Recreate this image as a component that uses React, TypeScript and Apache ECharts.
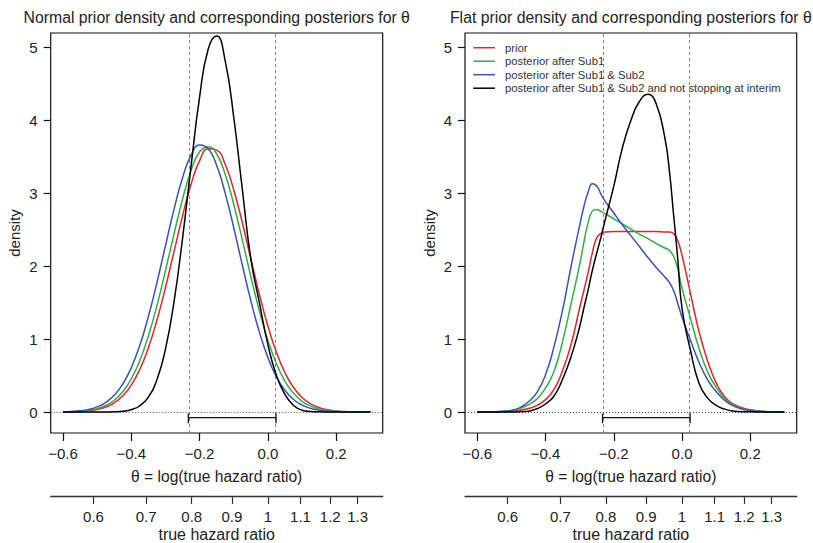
import React, { useEffect, useRef } from "react";
import * as echarts from "echarts";

// ---------- data ----------
const thetaNormal = [
  -0.6, -0.575, -0.55, -0.525, -0.5, -0.475, -0.45, -0.425, -0.4, -0.375, -0.35, -0.325, -0.3,
  -0.275, -0.25, -0.225, -0.2, -0.175, -0.15, -0.125, -0.1, -0.075, -0.05, -0.025, 0, 0.025,
  0.05, 0.075, 0.1, 0.125, 0.15, 0.175, 0.2, 0.225, 0.25, 0.275, 0.3,
];
const normalPrior = [
  0.0015, 0.0035, 0.008, 0.017, 0.035, 0.068, 0.126, 0.222, 0.37, 0.587, 0.882, 1.259, 1.708,
  2.2, 2.691, 3.126, 3.448, 3.612, 3.593, 3.395, 3.046, 2.596, 2.1, 1.614, 1.178, 0.816, 0.537,
  0.336, 0.199, 0.112, 0.06, 0.03, 0.015, 0.007, 0.003, 0.0012, 0.0005,
];
const normalPostSub1 = [
  0.002, 0.0048, 0.0108, 0.023, 0.046, 0.089, 0.161, 0.278, 0.455, 0.707, 1.043, 1.459, 1.938,
  2.442, 2.92, 3.315, 3.57, 3.64, 3.54, 3.26, 2.847, 2.361, 1.858, 1.388, 0.983, 0.661, 0.422,
  0.256, 0.147, 0.08, 0.042, 0.02, 0.0095, 0.0042, 0.0018, 0.0007, 0.0003,
];
const normalPostSub12 = [
  0.0034, 0.0079, 0.017, 0.036, 0.07, 0.13, 0.229, 0.384, 0.609, 0.917, 1.31, 1.775, 2.281,
  2.78, 3.214, 3.524, 3.664, 3.614, 3.381, 3.0, 2.525, 2.016, 1.526, 1.096, 0.746, 0.482, 0.295,
  0.172, 0.095, 0.05, 0.025, 0.012, 0.005, 0.002, 0.0009, 0.0003, 0.0001,
];
const normalPostNoStop = [
  0, 0, 0, 0, 0.0002, 0.0009, 0.0033, 0.011, 0.032, 0.086, 0.205, 0.443, 0.863, 1.512, 2.382,
  3.378, 4.324, 4.977, 5.158, 4.813, 4.041, 3.056, 2.1, 1.5, 0.92, 0.5, 0.24, 0.09, 0.025, 0.008,
  0.002, 0.0005, 0, 0, 0, 0, 0,
];

const thetaFlat = [
  -0.6, -0.575, -0.55, -0.525, -0.5, -0.475, -0.45, -0.425, -0.4, -0.375, -0.35, -0.325, -0.3,
  -0.2875, -0.275, -0.2625, -0.25, -0.2375, -0.225, -0.2, -0.175, -0.15, -0.125, -0.1, -0.075,
  -0.05, -0.0375, -0.025, -0.0125, 0, 0.025, 0.05, 0.075, 0.1, 0.125, 0.15, 0.175, 0.2, 0.225,
  0.25, 0.275, 0.3,
];
const flatPrior = [
  0, 0.001, 0.002, 0.005, 0.012, 0.025, 0.048, 0.09, 0.17, 0.31, 0.57, 0.93, 1.43, 1.67, 1.92,
  2.19, 2.39, 2.45, 2.47, 2.475, 2.475, 2.475, 2.475, 2.475, 2.475, 2.47, 2.47, 2.45, 2.35, 2.15,
  1.62, 1.1, 0.7, 0.4, 0.21, 0.11, 0.06, 0.03, 0.013, 0.005, 0.002, 0.001,
];
const flatPostSub1 = [
  0.001, 0.002, 0.005, 0.01, 0.022, 0.05, 0.1, 0.18, 0.33, 0.56, 0.97, 1.49, 2.02, 2.33, 2.6,
  2.76, 2.78, 2.75, 2.72, 2.65, 2.58, 2.51, 2.44, 2.38, 2.31, 2.25, 2.22, 2.14, 1.96, 1.7, 1.28,
  0.87, 0.55, 0.34, 0.19, 0.1, 0.05, 0.025, 0.011, 0.005, 0.002, 0.001,
];
const flatPostSub12 = [
  0.001, 0.002, 0.004, 0.009, 0.022, 0.06, 0.14, 0.27, 0.51, 0.9, 1.4, 2.0, 2.56, 2.82, 3.02,
  3.13, 3.1, 2.99, 2.89, 2.73, 2.57, 2.42, 2.27, 2.12, 1.98, 1.85, 1.78, 1.67, 1.49, 1.3, 0.98,
  0.68, 0.44, 0.28, 0.16, 0.085, 0.042, 0.02, 0.009, 0.004, 0.0015, 0.0005,
];
const flatPostNoStop = [
  0, 0, 0, 0.0005, 0.001, 0.004, 0.012, 0.045, 0.11, 0.22, 0.45, 0.76, 1.17, 1.43, 1.68, 1.95,
  2.18, 2.4, 2.64, 3.1, 3.62, 4.0, 4.26, 4.36, 4.22, 3.75, 3.33, 2.72, 2.1, 1.42, 0.84, 0.39,
  0.19, 0.09, 0.04, 0.015, 0.005, 0.002, 0.0005, 0, 0, 0,
];

const curveNames = [
  "prior",
  "posterior after Sub1",
  "posterior after Sub1 & Sub2",
  "posterior after Sub1 & Sub2 and not stopping at interim",
];
const panelTitles = [
  "Normal prior density and corresponding posteriors for θ",
  "Flat prior density and corresponding posteriors for θ",
];
const thetaTicks = [-0.6, -0.4, -0.2, 0, 0.2];
const thetaTickLabels = ["−0.6", "−0.4", "−0.2", "0.0", "0.2"];
const hrTicks = [0.6, 0.7, 0.8, 0.9, 1, 1.1, 1.2, 1.3];
const hrTickLabels = ["0.6", "0.7", "0.8", "0.9", "1", "1.1", "1.2", "1.3"];
const densityTicks = [0, 1, 2, 3, 4, 5];
const intervalBounds = [-0.233, 0.0237];

// ---------- layout / styles ----------
const FONT = '"Liberation Sans", Arial, Helvetica, sans-serif';
const COLORS = ["#E8202A", "#2FAF4A", "#3A53B0", "#000000"];
const TEXT = "#222";
const X_MIN = -0.636;
const X_MAX = 0.336;
const Y_MIN = -0.288;
const Y_MAX = 5.2;
const GRIDS = [
  { left: 50.7, top: 33, width: 332, height: 400 },
  { left: 465, top: 33, width: 331.7, height: 400 },
];
const BAR_Y = -0.077;
const CAP_TOP = -0.02;
const CAP_BOTTOM = -0.155;

const pick = (ticks: number[], labels: string[], v: number) => {
  const i = ticks.findIndex((t) => Math.abs(t - v) < 1e-6);
  return i >= 0 ? labels[i] : "";
};

function buildOption() {
  const panels = [
    { x: thetaNormal, ys: [normalPrior, normalPostSub1, normalPostSub12, normalPostNoStop] },
    { x: thetaFlat, ys: [flatPrior, flatPostSub1, flatPostSub12, flatPostNoStop] },
  ];
  const hrLog = hrTicks.map((h) => Math.log(h));

  const grid: any[] = [];
  const xAxis: any[] = [];
  const yAxis: any[] = [];
  const series: any[] = [];
  const graphics: any[] = [];

  GRIDS.forEach((g, p) => {
    grid.push({ ...g, show: true, borderColor: "#111", borderWidth: 1.2, backgroundColor: "transparent" });
    xAxis.push({
      type: "value",
      gridIndex: p,
      min: X_MIN,
      max: X_MAX,
      position: "bottom",
      axisLine: { show: false, onZero: false },
      splitLine: { show: false },
      axisTick: { show: true, length: 8, customValues: thetaTicks, lineStyle: { color: "#111", width: 1.2 } },
      axisLabel: {
        customValues: thetaTicks,
        formatter: (v: number) => pick(thetaTicks, thetaTickLabels, v),
        margin: 13,
        fontSize: 15,
        fontFamily: FONT,
        color: TEXT,
      },
    });
    xAxis.push({
      type: "value",
      gridIndex: p,
      min: X_MIN,
      max: X_MAX,
      position: "bottom",
      offset: 63,
      axisLine: { show: true, onZero: false, lineStyle: { color: "#333", width: 1.3 } },
      splitLine: { show: false },
      axisTick: { show: true, length: 8, customValues: hrLog, lineStyle: { color: "#333", width: 1.2 } },
      axisLabel: {
        customValues: hrLog,
        formatter: (v: number) => pick(hrLog, hrTickLabels, v),
        margin: 13,
        fontSize: 15,
        fontFamily: FONT,
        color: TEXT,
      },
    });
    yAxis.push({
      type: "value",
      gridIndex: p,
      min: Y_MIN,
      max: Y_MAX,
      position: "left",
      axisLine: { show: false, onZero: false },
      splitLine: { show: false },
      axisTick: { show: true, length: 7, customValues: densityTicks, lineStyle: { color: "#111", width: 1.2 } },
      axisLabel: {
        customValues: densityTicks,
        formatter: (v: number) => pick(densityTicks, densityTicks.map(String), v),
        margin: 13,
        fontSize: 15,
        fontFamily: FONT,
        color: TEXT,
      },
    });

    const xi = p * 2;
    // reference lines + zero line
    series.push({
      type: "line",
      xAxisIndex: xi,
      yAxisIndex: p,
      data: [],
      silent: true,
      markLine: {
        symbol: ["none", "none"],
        silent: true,
        label: { show: false },
        data: [
          ...intervalBounds.map((b) => ({ xAxis: b, lineStyle: { color: "#808080", width: 1, type: [3, 3] } })),
          { yAxis: 0, lineStyle: { color: "#444", width: 1, type: [1, 2] } },
        ],
      },
    });
    // curves
    panels[p].ys.forEach((ys, k) => {
      series.push({
        type: "line",
        name: curveNames[k],
        xAxisIndex: xi,
        yAxisIndex: p,
        data: panels[p].x.map((x, i) => [x, ys[i]]),
        smooth: 0.5,
        showSymbol: false,
        symbol: "none",
        lineStyle: { color: COLORS[k], width: 1.5 },
        z: 3 + k,
      });
    });
    // interval bar
    const [lo, hi] = intervalBounds;
    series.push({
      type: "line",
      xAxisIndex: xi,
      yAxisIndex: p,
      data: [
        [lo, CAP_TOP],
        [lo, CAP_BOTTOM],
        [lo, BAR_Y],
        [hi, BAR_Y],
        [hi, CAP_TOP],
        [hi, CAP_BOTTOM],
      ],
      showSymbol: false,
      symbol: "none",
      lineStyle: { color: "#111", width: 1.3 },
      z: 8,
    });

    const cx = g.left + g.width / 2;
    graphics.push({
      type: "text",
      x: cx,
      y: 17,
      style: { text: panelTitles[p], fontSize: 15.8, fontFamily: FONT, fill: TEXT, align: "center", verticalAlign: "middle" },
    });
    graphics.push({
      type: "text",
      x: cx,
      y: 476,
      style: { text: "θ = log(true hazard ratio)", fontSize: 15.6, fontFamily: FONT, fill: TEXT, align: "center", verticalAlign: "middle" },
    });
    graphics.push({
      type: "text",
      x: cx,
      y: 534,
      style: { text: "true hazard ratio", fontSize: 16, fontFamily: FONT, fill: TEXT, align: "center", verticalAlign: "middle" },
    });
    graphics.push({
      type: "text",
      x: g.left - 36,
      y: g.top + g.height / 2,
      rotation: Math.PI / 2,
      style: { text: "density", fontSize: 15, fontFamily: FONT, fill: TEXT, align: "center", verticalAlign: "middle" },
    });
  });

  // legend in right panel
  const lg = GRIDS[1];
  curveNames.forEach((name, k) => {
    const y = 47.7 + k * 13.5;
    graphics.push({
      type: "line",
      shape: { x1: lg.left + 8.3, y1: y, x2: lg.left + 30, y2: y },
      style: { stroke: COLORS[k], lineWidth: 1.5 },
    });
    graphics.push({
      type: "text",
      x: lg.left + 40,
      y,
      style: { text: name, fontSize: 11.3, fontFamily: FONT, fill: "#333", align: "left", verticalAlign: "middle" },
    });
  });

  return {
    animation: false,
    backgroundColor: "#fff",
    grid,
    xAxis,
    yAxis,
    series,
    graphic: { elements: graphics },
  };
}

export default function App() {
  const ref = useRef<HTMLDivElement>(null);
  useEffect(() => {
    if (!ref.current) return;
    const chart = echarts.init(ref.current, null, { renderer: "svg" });
    chart.setOption(buildOption() as any);
    return () => chart.dispose();
  }, []);
  return (
    <div
      ref={ref}
      style={{ position: "absolute", left: 0, top: 0, width: 813, height: 543, background: "#fff" }}
    />
  );
}
